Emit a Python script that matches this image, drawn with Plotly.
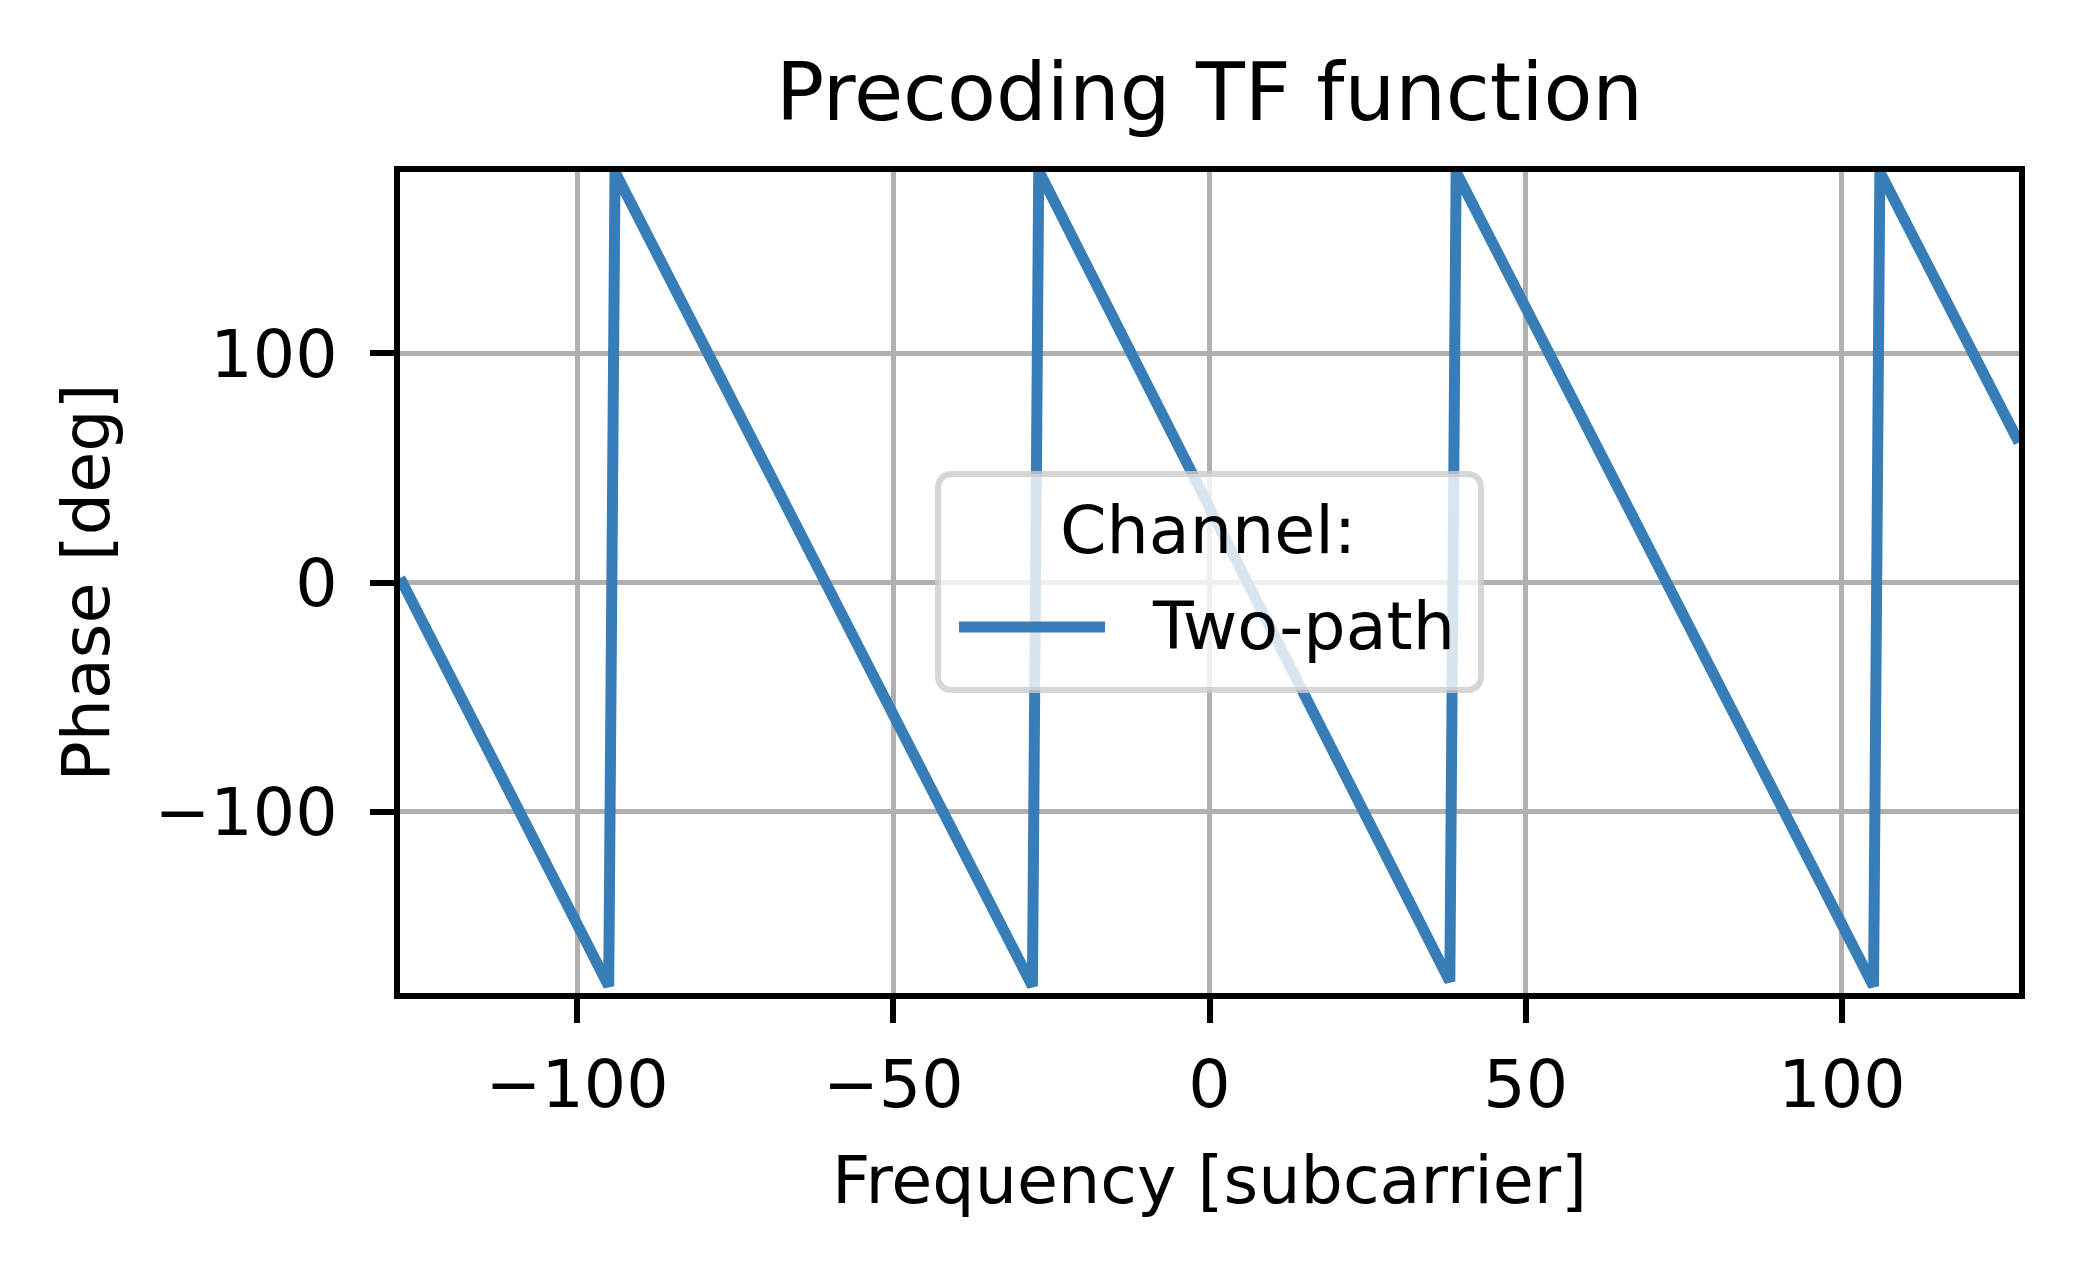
import plotly.graph_objects as go

# ---- data ----
freq = [-128, -95, -94, -28, -27, 38, 39, 105, 106, 128]
phase = [2, -176, 179, -176, 179.5, -174, 179, -176, 179, 61]
series_name = "Two-path"
legend_title = "Channel:"
x_ticks = [-100, -50, 0, 50, 100]
y_ticks = [-100, 0, 100]

W, H = 2079, 1275
L, R, T, B = 400, 60, 172, 282
PW, PH = W - L - R, H - T - B

FONT = "DejaVu Sans"
FS = 66.7
BLUE = "#377eb8"

def px2paper_x(px):
    return (px - L) / PW

def px2paper_y(py):
    return (H - B - py) / PH

fig = go.Figure()
fig.add_trace(go.Scatter(x=freq, y=phase, mode="lines", name=series_name,
                         line=dict(color=BLUE, width=11), showlegend=False))

axis_common = dict(showline=True, mirror=True, linecolor="black", linewidth=6,
                   ticks="outside", ticklen=24, tickwidth=6, tickcolor="black",
                   showgrid=True, gridcolor="#b0b0b0", gridwidth=5.3,
                   zeroline=False, tickfont=dict(family=FONT, size=FS, color="black"))

fig.update_xaxes(range=[-128, 128], tickvals=x_ticks, ticklabelstandoff=4, **axis_common,
                 title=dict(text="Frequency [subcarrier]", font=dict(family=FONT, size=FS, color="black"), standoff=36))
fig.update_yaxes(range=[-179, 179], tickvals=y_ticks, ticklabelstandoff=19, **axis_common,
                 title=dict(text="Phase [deg]", font=dict(family=FONT, size=FS, color="black"), standoff=25))

# ---- legend drawn as a box like the reference ----
x0, x1 = px2paper_x(938), px2paper_x(1481)
y0, y1 = px2paper_y(690), px2paper_y(474)
rx, ry = 15 / PW, 15 / PH
path = (f"M{x0+rx},{y0} L{x1-rx},{y0} Q{x1},{y0} {x1},{y0+ry} "
        f"L{x1},{y1-ry} Q{x1},{y1} {x1-rx},{y1} L{x0+rx},{y1} Q{x0},{y1} {x0},{y1-ry} "
        f"L{x0},{y0+ry} Q{x0},{y0} {x0+rx},{y0} Z")
fig.add_shape(type="path", path=path, xref="paper", yref="paper", layer="above",
              fillcolor="rgba(255,255,255,0.8)", line=dict(color="rgba(204,204,204,0.8)", width=6))
fig.add_shape(type="line", xref="paper", yref="paper", layer="above",
              x0=px2paper_x(959), x1=px2paper_x(1105), y0=px2paper_y(627), y1=px2paper_y(627),
              line=dict(color=BLUE, width=11))
fig.add_annotation(text=legend_title, xref="paper", yref="paper", x=px2paper_x(1208), y=px2paper_y(530),
                   xanchor="center", yanchor="middle", showarrow=False, borderpad=0,
                   font=dict(family=FONT, size=FS, color="black"))
fig.add_annotation(text=series_name, xref="paper", yref="paper", x=px2paper_x(1151), y=px2paper_y(626),
                   xanchor="left", yanchor="middle", showarrow=False, borderpad=0,
                   font=dict(family=FONT, size=FS, color="black"))

fig.update_layout(
    width=W, height=H,
    margin=dict(l=L, r=R, t=T, b=B, autoexpand=False),
    paper_bgcolor="white", plot_bgcolor="white",
    title=dict(text="Precoding TF function", x=px2paper_x(1209.5), xref="paper",
               y=1 - 92 / H, yref="container", xanchor="center", yanchor="middle",
               font=dict(family=FONT, size=80, color="black")),
    font=dict(family=FONT, size=FS, color="black"),
)

fig.write_html("out.html")
